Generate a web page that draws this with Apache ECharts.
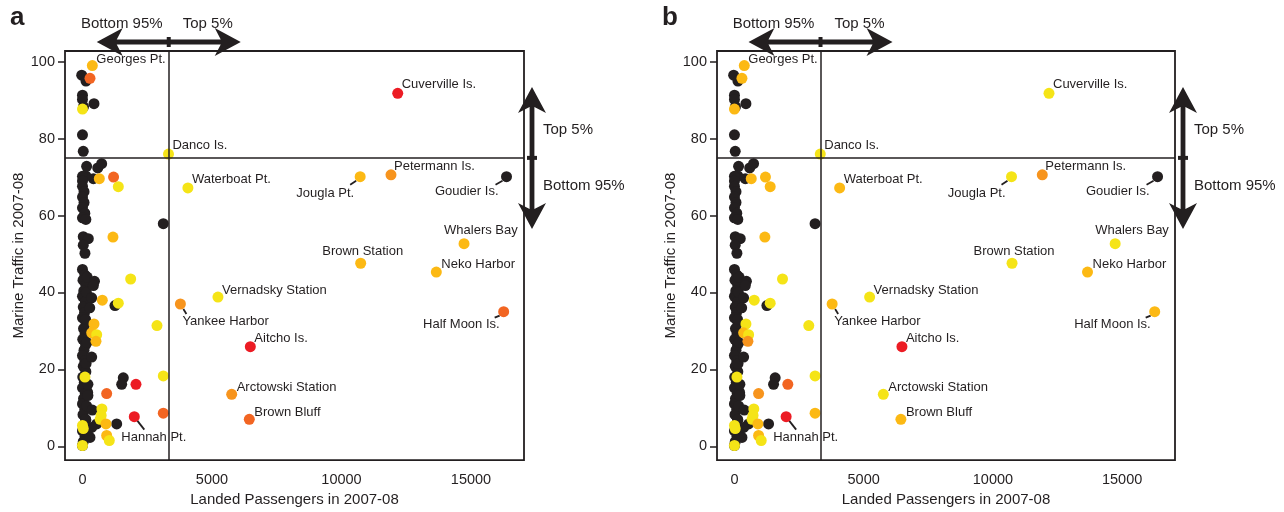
<!DOCTYPE html>
<html lang="en" style="height: 100%">
  <head>
    <meta charset="utf-8" />
  </head>
  <body style="height: 100%; margin: 0; background: #fff">
    <div id="container" style="width: 1284px; height: 512px"></div>
    <script src="https://cdn.jsdelivr.net/npm/echarts@6/dist/echarts.min.js"></script>
    <script type="text/javascript">
      // unlabelled black sites (same colour in both panels)
      var blackPassengers = [
        -30, 135, 0, 0, 444, 40, 0, 30,
        160, 590, 740, 420, 130, 0, 0, 0, 60, 0, 60, 0, 90, 0, 130,
        3120,
        30, 225, 30, 95,
        0, 90, 20, 130, 50, 0, 110, 30, 80, 0, 140, 40, 100, 10, 120, 60, 0,
        90, 30, 130, 10, 70, 0, 110, 40, 0, 90, 20, 130, 50, 0, 100, 30, 0,
        180, 150, 120, 170, 140, 200, 160, 120, 180,
        463, 420, 355, 280, 1255, 355, 1575, 1513, 210, 210, 380, 548, 355, 1320, 290
      ];
      var blackTraffic = [
        96.5, 95.0, 91.3, 90.2, 89.1, 88.3, 81.0, 76.7,
        72.8, 72.4, 73.5, 69.6, 70.3, 70.2, 69.0, 67.6, 66.2, 64.8, 63.4, 62.0, 60.6, 59.4, 59.0,
        57.9,
        54.5, 54.0, 52.3, 50.2,
        46.0, 44.6, 43.2, 41.8, 40.4, 39.0, 37.6, 36.2, 34.8, 33.4, 32.0, 30.6, 29.2, 27.8, 26.4, 25.0, 23.6,
        22.2, 20.8, 19.4, 18.0, 16.6, 15.2, 13.8, 12.4, 11.0, 9.6, 8.2, 6.8, 5.4, 4.0, 2.6, 1.2, 0.2,
        44.0, 40.0, 33.0, 27.0, 21.5, 14.0, 10.5, 7.0, 3.5,
        42.9, 41.8, 38.6, 36.0, 36.6, 23.2, 17.8, 16.1, 16.1, 13.2, 9.4, 5.8, 4.9, 5.8, 2.3
      ];

      // unlabelled coloured sites
      var dotPassengers = [290, 0, 650, 1200, 1383, 1177, 1860, 765, 1383, 2876, 444, 355, 548, 521,
        96, 2065, 3120, 934, 750, 720, 680, 907, 934, 1035, 3120, 0, 30, 0];
      var dotTraffic = [95.7, 87.7, 69.6, 70.0, 67.5, 54.4, 43.5, 38.0, 37.2, 31.4, 31.8, 29.5, 29.0, 27.3,
        18.0, 16.1, 18.3, 13.7, 9.7, 8.0, 7.0, 5.8, 2.8, 1.5, 8.6, 5.4, 4.6, 0.2];
      var dotShadeA = ['D', 'Y', 'G', 'D', 'Y', 'G', 'Y', 'G', 'Y', 'Y', 'G', 'G', 'Y', 'G',
        'Y', 'R', 'Y', 'D', 'Y', 'Y', 'Y', 'G', 'G', 'Y', 'D', 'Y', 'Y', 'Y'];
      var dotShadeB = ['G', 'G', 'G', 'G', 'G', 'G', 'Y', 'Y', 'Y', 'Y', 'Y', 'G', 'Y', 'O',
        'Y', 'D', 'Y', 'O', 'Y', 'Y', 'Y', 'G', 'G', 'Y', 'G', 'Y', 'Y', 'Y'];

      // named sites
      var siteNames = ['Georges Pt.', 'Danco Is.', 'Cuverville Is.', 'Petermann Is.', 'Jougla Pt.',
        'Goudier Is.', 'Waterboat Pt.', 'Whalers Bay', 'Brown Station', 'Neko Harbor',
        'Vernadsky Station', 'Yankee Harbor', 'Half Moon Is.', 'Aitcho Is.', 'Arctowski Station',
        'Brown Bluff', 'Hannah Pt.'];
      var sitePassengers = [380, 3320, 12170, 11910, 10720, 16370, 4070, 14730, 10740, 13660,
        5230, 3780, 16260, 6480, 5760, 6440, 2000];
      var siteTraffic = [99.0, 76.0, 91.8, 70.6, 70.1, 70.1, 67.2, 52.7, 47.6, 45.3,
        38.8, 37.0, 35.0, 25.9, 13.5, 7.0, 7.7];
      var siteShadeA = ['G', 'Y', 'R', 'O', 'G', 'K', 'Y', 'G', 'G', 'G', 'Y', 'O', 'D', 'R', 'O', 'D', 'R'];
      var siteShadeB = ['G', 'Y', 'Y', 'O', 'Y', 'K', 'G', 'Y', 'Y', 'G', 'Y', 'G', 'G', 'R', 'Y', 'G', 'R'];

      var xTicks = [0, 5000, 10000, 15000];
      var yTicks = [0, 20, 40, 60, 80, 100];
      var cutPassengers = 3330;
      var cutTraffic = 75;

      var palette = {
        K: "#231f20",
        Y: "#f5e417",
        G: "#fcb914",
        O: "#f7941d",
        D: "#f26522",
        R: "#ec1c24",
      };
      var ink = "#231f20";
      var font = "'Liberation Sans', Arial, Helvetica, sans-serif";
      var xMin = -675, xMax = 17045, yMin = -3.6, yMax = 102.8;

      // label offsets from the dot centre: [dx, dy, align]
      var labelPlace = {
        "Georges Pt.": [4, -6, "left"],
        "Danco Is.": [4, -9, "left"],
        "Cuverville Is.": [4, -9, "left"],
        "Petermann Is.": [3, -8, "left"],
        "Jougla Pt.": [-6, 17, "right"],
        "Goudier Is.": [-8, 15, "right"],
        "Waterboat Pt.": [4, -8, "left"],
        "Whalers Bay": [-20, -13, "left"],
        "Brown Station": [2, -12, "center"],
        "Neko Harbor": [5, -8, "left"],
        "Vernadsky Station": [4, -7, "left"],
        "Yankee Harbor": [2, 17, "left"],
        "Half Moon Is.": [-4, 13, "right"],
        "Aitcho Is.": [4, -8, "left"],
        "Arctowski Station": [5, -7, "left"],
        "Brown Bluff": [5, -7, "left"],
        "Hannah Pt.": [-13, 21, "left"],
      };
      // short leader lines [x1, y1, x2, y2] relative to the dot
      var leaders = {
        "Jougla Pt.": [-4, 4, -10, 8],
        "Goudier Is.": [-4, 4, -11, 8],
        "Yankee Harbor": [3, 5, 6, 10],
        "Half Moon Is.": [-4, 4, -9, 6],
        "Hannah Pt.": [3, 4, 10, 13],
      };
      var dotSize = 11;

      function buildPoints(shadeDots, shadeSites) {
        var res = [];
        var half = dotSize / 2;
        for (var i = 0; i < blackPassengers.length; i++) {
          res.push({ value: [blackPassengers[i], blackTraffic[i]], itemStyle: { color: palette.K } });
        }
        for (var j = 0; j < dotPassengers.length; j++) {
          res.push({ value: [dotPassengers[j], dotTraffic[j]], itemStyle: { color: palette[shadeDots[j]] } });
        }
        for (var k = 0; k < siteNames.length; k++) {
          var p = labelPlace[siteNames[k]];
          res.push({
            name: siteNames[k],
            value: [sitePassengers[k], siteTraffic[k]],
            itemStyle: { color: palette[shadeSites[k]] },
            label: {
              show: true,
              formatter: siteNames[k],
              position: [half + p[0], half + p[1]],
              align: p[2],
              verticalAlign: "middle",
              color: ink,
              fontSize: 13,
              fontFamily: font,
            },
          });
        }
        return res;
      }

      function leaderData() {
        var res = [];
        for (var k = 0; k < siteNames.length; k++) {
          if (leaders[siteNames[k]]) {
            res.push({ name: siteNames[k], value: [sitePassengers[k], siteTraffic[k]] });
          }
        }
        return res;
      }

      function makeGrid(left, width) {
        return { left: left, top: 51, width: width, height: 412, show: true, borderColor: ink, borderWidth: 1.8, backgroundColor: "#fff" };
      }
      function plain(v) {
        return String(v);
      }
      function makeX(gi) {
        return {
          type: "value", gridIndex: gi, min: xMin, max: xMax,
          name: "Landed Passengers in 2007-08", nameLocation: "middle", nameGap: 31,
          nameTextStyle: { color: ink, fontSize: 15, fontFamily: font },
          axisLine: { show: false, onZero: false },
          axisTick: { show: false },
          splitLine: { show: false },
          axisLabel: { customValues: xTicks, formatter: plain, color: ink, fontSize: 14.5, fontFamily: font, margin: 12 },
        };
      }
      function makeY(gi) {
        return {
          type: "value", gridIndex: gi, min: yMin, max: yMax,
          name: "Marine Traffic in 2007-08", nameLocation: "middle", nameGap: 39,
          nameTextStyle: { color: ink, fontSize: 15, fontFamily: font },
          axisLine: { show: false, onZero: false },
          axisTick: { show: true, customValues: yTicks, length: 7, lineStyle: { color: ink, width: 1.5 } },
          splitLine: { show: false },
          axisLabel: { customValues: yTicks, formatter: plain, color: ink, fontSize: 14.5, fontFamily: font, margin: 10 },
        };
      }
      function makeSeries(gi, shadeDots, shadeSites) {
        return [
          {
            type: "custom", xAxisIndex: gi, yAxisIndex: gi, silent: true, z: 3,
            data: leaderData(),
            renderItem: function (params, api) {
              var c = api.coord([api.value(0), api.value(1)]);
              var l = leaders[leaderData()[params.dataIndex].name];
              return {
                type: "line",
                shape: { x1: c[0] + l[0], y1: c[1] + l[1], x2: c[0] + l[2], y2: c[1] + l[3] },
                style: { stroke: ink, lineWidth: 1.8 },
              };
            },
          },
          {
            type: "scatter", xAxisIndex: gi, yAxisIndex: gi, symbolSize: dotSize, z: 4,
            data: buildPoints(shadeDots, shadeSites),
            itemStyle: { opacity: 1 },
            label: { show: false, color: ink, fontSize: 13, fontFamily: font },
            emphasis: { disabled: true },
            markLine: {
              silent: true, symbol: ["none", "none"], label: { show: false },
              lineStyle: { color: ink, width: 1.5, type: "solid" },
              data: [{ xAxis: cutPassengers }, { yAxis: cutTraffic }],
            },
          },
        ];
      }

      var dom = document.getElementById("container");
      var myChart = echarts.init(dom, null, { renderer: "canvas" });
      var option = {
        animation: false,
        backgroundColor: "#fff",
        grid: [makeGrid(65, 459), makeGrid(717, 458)],
        xAxis: [makeX(0), makeX(1)],
        yAxis: [makeY(0), makeY(1)],
        series: makeSeries(0, dotShadeA, siteShadeA).concat(makeSeries(1, dotShadeB, siteShadeB)),
      };
      myChart.setOption(option);

      // double-headed arrows placed from the threshold positions
      function arrowShape(cx, cy, half, vertical) {
        var h = 26, w = 14, sh = 2.4, notch = 6;
        var pts = [
          [-half, 0], [-half + h, -w], [-half + h - notch, -sh], [half - h + notch, -sh], [half - h, -w],
          [half, 0], [half - h, w], [half - h + notch, sh], [-half + h - notch, sh], [-half + h, w],
        ];
        return pts.map(function (p) {
          return vertical ? [cx + p[1], cy + p[0]] : [cx + p[0], cy + p[1]];
        });
      }
      function txt(x, y, s, align, size, weight) {
        return {
          type: "text", x: x, y: y, silent: true,
          style: { text: s, fill: ink, font: (weight || "normal") + " " + size + "px " + font, align: align, verticalAlign: "middle" },
        };
      }
      var graphics = [];
      var letters = ["a", "b"];
      [0, 1].forEach(function (gi) {
        var cut = myChart.convertToPixel({ gridIndex: gi }, [cutPassengers, cutTraffic]);
        var corner = myChart.convertToPixel({ gridIndex: gi }, [xMax, yMax]);
        var origin = myChart.convertToPixel({ gridIndex: gi }, [xMin, yMin]);
        var hx = cut[0], hy = corner[1] - 9;
        var vx = corner[0] + 8, vy = cut[1];
        graphics.push({ type: "polygon", silent: true, shape: { points: arrowShape(hx, hy, 72, false) }, style: { fill: ink } });
        graphics.push({ type: "rect", silent: true, shape: { x: hx - 2, y: hy - 5, width: 4, height: 10 }, style: { fill: ink } });
        graphics.push({ type: "polygon", silent: true, shape: { points: arrowShape(vx, vy, 71, true) }, style: { fill: ink } });
        graphics.push({ type: "rect", silent: true, shape: { x: vx - 5, y: vy - 2, width: 10, height: 4 }, style: { fill: ink } });
        graphics.push(txt(hx - 47, hy - 18, "Bottom 95%", "center", 15));
        graphics.push(txt(hx + 39, hy - 18, "Top 5%", "center", 15));
        graphics.push(txt(vx + 11, vy - 28, "Top 5%", "left", 15));
        graphics.push(txt(vx + 11, vy + 28, "Bottom 95%", "left", 15));
        graphics.push(txt(origin[0] - 55, 18, letters[gi], "left", 26, "bold"));
      });
      myChart.setOption({ graphic: graphics });

      window.addEventListener("resize", myChart.resize);
    </script>
  </body>
</html>
